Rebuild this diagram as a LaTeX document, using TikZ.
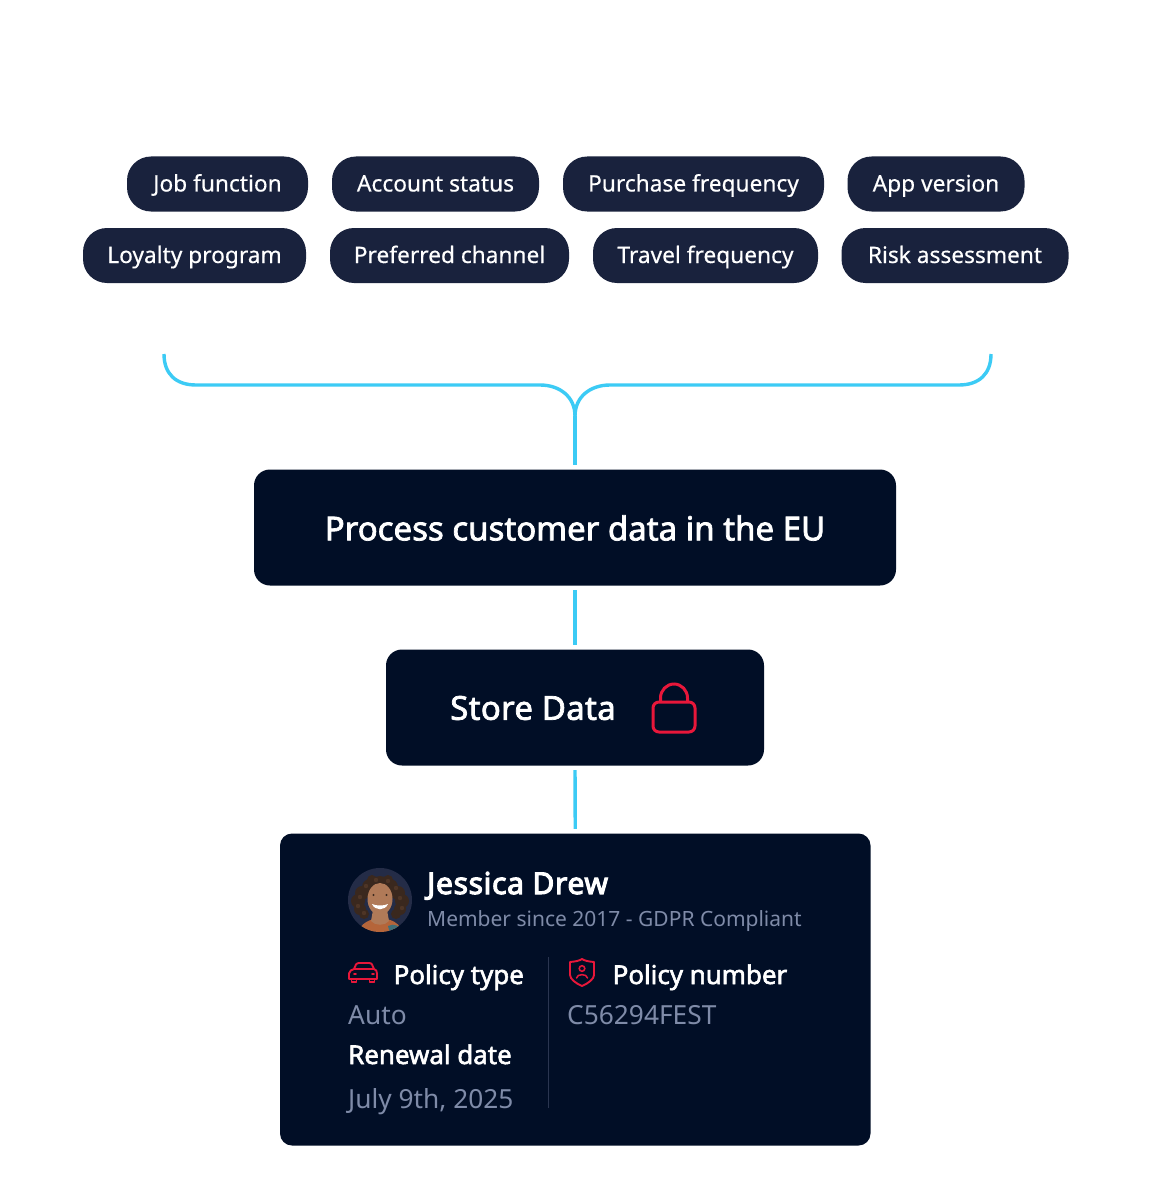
\documentclass[tikz,border=0pt]{standalone}
\usepackage{fontspec}
\setmainfont{Noto Sans}
\usetikzlibrary{calc}
\definecolor{navy}{HTML}{010E26}
\definecolor{pillc}{HTML}{19223D}
\definecolor{cyanl}{HTML}{3CCBF5}
\definecolor{redl}{HTML}{E8173A}
\definecolor{greyt}{HTML}{7F8BA8}
\definecolor{divl}{HTML}{2A3550}
\definecolor{skin}{HTML}{B07A58}
\definecolor{hair}{HTML}{3A281E}
\definecolor{hairb}{HTML}{4E3526}
\definecolor{avbg}{HTML}{242C47}
\definecolor{topc}{HTML}{B5653A}
\definecolor{topd}{HTML}{3F6E78}
\newfontfamily\medfont[FakeBold=2.2]{Noto Sans}
\newfontfamily\semifont[FakeBold=3.6,LetterSpace=2.2]{Noto Sans}
\newfontfamily\medwide[FakeBold=2.2,LetterSpace=0.9]{Noto Sans}
\newfontfamily\pillfont[FakeBold=0.4]{Noto Sans}
\tikzset{
  x=1pt,y=-1pt,
  pill/.style={fill=pillc,text=white,rounded corners=24pt,minimum height=55pt,inner xsep=0pt,inner ysep=0pt,text height=15pt,text depth=0pt,font=\pillfont\fontsize{22.7}{27}\selectfont,anchor=center},
  panel/.style={fill=navy,rounded corners=16pt,inner sep=0pt},
  wire/.style={draw=cyanl,line width=3.4pt},
  redicon/.style={draw=redl,line width=1.9pt,line join=round,line cap=round},
  strong/.style={text=white,font=\medfont\fontsize{25.9}{30}\selectfont,inner sep=0pt,anchor=base west},
  soft/.style={text=greyt,inner sep=0pt,anchor=base west},
  softbig/.style={soft,font=\fontsize{26.3}{30}\selectfont},
  boxtext/.style={text=white,inner sep=0pt,font=\medfont\fontsize{33}{40}\selectfont},
}
\begin{document}
\begin{tikzpicture}
\useasboundingbox (0,0) rectangle (1152,1201);
\fill[white] (0,0) rectangle (1152,1201);
% pills
\node[pill,minimum width=181pt] (p1) at (217.5,184) {Job function};
\node[pill,minimum width=207pt] (p2) at (435.5,184) {Account status};
\node[pill,minimum width=261pt] (p3) at (693.5,184) {Purchase frequency};
\node[pill,minimum width=177pt] (p4) at (936,184) {App version};
\node[pill,minimum width=223pt] (p5) at (194.5,255.5) {Loyalty program};
\node[pill,minimum width=239pt] (p6) at (449.5,255.5) {Preferred channel};
\node[pill,minimum width=225pt] (p7) at (705.5,255.5) {Travel frequency};
\node[pill,minimum width=227pt] (p8) at (955,255.5) {Risk assessment};
% main boxes
\node[panel,minimum width=642pt,minimum height=116pt] (proc) at (575,527.5) {};
\node[boxtext] (proct) at (575,528) {Process customer data in the EU};
\node[panel,minimum width=378pt,minimum height=116pt] (store) at (575,707.5) {};
\node[boxtext,font=\medwide\fontsize{33}{40}\selectfont] (storet) at (533,708) {Store Data};
\node[panel,rounded corners=12pt,minimum width=590.5pt,minimum height=312pt] (card) at (575.25,989.5) {};
% connectors
\coordinate (bl) at (164,354);
\coordinate (br) at (991,354);
\coordinate (bj) at (575,416);
\draw[wire] (bl) .. controls (164,374) and (176,385) .. (196,385) -- (540,385) .. controls (560,385) and (575,397) .. (bj);
\draw[wire] (br) .. controls (991,374) and (979,385) .. (959,385) -- (610,385) .. controls (590,385) and (575,397) .. (bj);
\draw[wire,shorten >=4.5pt] (bj) -- (proc.north);
\draw[wire,shorten <=4.5pt,shorten >=4.5pt] (proc.south) -- (store.north);
\draw[wire,shorten <=4.5pt,shorten >=4.5pt] (store.south) -- (card.north);
% lock icon
\draw[redl,line width=3pt,rounded corners=6pt] (653,702) rectangle (695,732);
\draw[redl,line width=3pt] (660.5,702) -- (660.5,698) arc[start angle=180,end angle=0,x radius=13.5,y radius=-14] -- (687.5,702);
% avatar
\begin{scope}
\path[clip] (380,900) circle[radius=32];
\fill[avbg] (348,868) rectangle (412,932);
\foreach \cx/\cy/\r in {380/886/10,370/887/8,390/887/8,362/893/7,398/893/7,358/901/7,402/901/7,360/909/6,400/909/6,364/914/5,396/914/5,372/880/5,388/880/5}{
  \fill[hair] (\cx,\cy) circle[radius=\r];
}
\foreach \cx/\cy in {366/886,376/880,388/881,396/888,400/898,360/897,358/906,402/908,364/913}{
  \fill[hairb] (\cx,\cy) circle[radius=2.2];
}
\fill[topc] (356,936) .. controls (360,922) and (372,918) .. (380,919) .. controls (390,918) and (400,922) .. (405,936) -- cycle;
\fill[topd] (388,926) .. controls (394,923) and (400,925) .. (404,934) -- (390,934) -- cycle;
\fill[skin] (373,910) -- (387,910) -- (389,921) .. controls (385,926) and (375,926) .. (371,921) -- cycle;
\fill[skin] (380,899) ellipse[x radius=12.5,y radius=16];
\fill[hair] (373.5,895) circle[radius=1.1];
\fill[hair] (386.5,895) circle[radius=1.1];
\fill[white] (372,904) .. controls (376,906) and (384,906) .. (388,904) .. controls (385,911) and (375,911) .. (372,904) -- cycle;
\end{scope}
% card text
\node[text=white,inner sep=0pt,anchor=base west,font=\semifont\fontsize{30}{34}\selectfont] (name) at (427,894) {Jessica Drew};
\node[soft,font=\fontsize{21}{25}\selectfont] (since) at (427,926) {Member since 2017 - GDPR Compliant};
\node[strong] (ptype) at (393.5,984) {Policy type};
\node[softbig] (auto) at (348,1024) {Auto};
\node[strong] (rdate) at (348,1064) {Renewal date};
\node[softbig] (july) at (348,1108) {July 9th, 2025};
\node[strong] (pnum) at (612.5,984) {Policy number};
\node[softbig] (pval) at (567,1024) {C56294FEST};
% divider
\coordinate (d1) at (548.5,957);
\coordinate (d2) at (548.5,1108);
\draw[divl,line width=1.5pt] (d1) -- (d2);
% car icon
\draw[redicon] (349,979) -- (349,973.5) .. controls (349,971) and (352,969.5) .. (354,969) -- (356,964.5) .. controls (356.5,963.5) and (358,963) .. (359,963) -- (369,963) .. controls (370.5,963) and (371.5,963.5) .. (372,964.5) -- (374,969) .. controls (376,969.5) and (377,971) .. (377,973.5) -- (377,979) -- cycle;
\draw[redicon] (354,969) -- (374,969);
\draw[redicon] (351.5,979) -- (351.5,982) -- (356.5,982) -- (356.5,979);
\draw[redicon] (369.5,979) -- (369.5,982) -- (374.5,982) -- (374.5,979);
\draw[redicon] (354,974) -- (356,974) (372,974) -- (374,974);
% shield icon
\draw[redicon] (570,962) .. controls (576,961.5) and (580,960.5) .. (582,959) .. controls (584,960.5) and (588,961.5) .. (594,962) -- (594,975) .. controls (594,979) and (588,983.5) .. (582,986) .. controls (576,983.5) and (570,979) .. (570,975) -- cycle;
\draw[redl,line width=1.5pt] (582,968.5) circle[radius=2.8];
\draw[redl,line width=1.5pt,line cap=round] (576.5,978) .. controls (577,973.5) and (587,973.5) .. (587.5,978);
\end{tikzpicture}
\end{document}
